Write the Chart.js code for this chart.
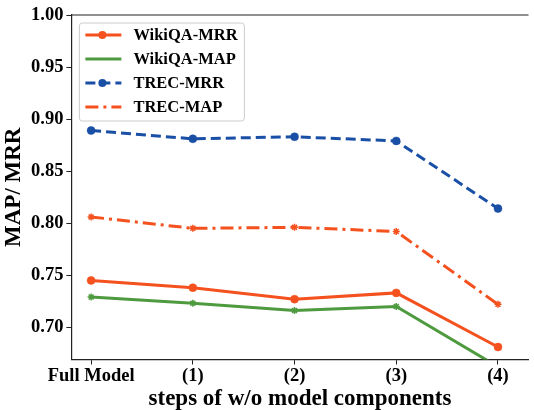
<!DOCTYPE html>
<html>
<head>
<meta charset="utf-8">
<script src="https://cdn.jsdelivr.net/npm/chart.js@4"></script>
<style>
  html, body { margin: 0; padding: 0; background: #fff; }
  #wrap { width: 534px; height: 410px; }
</style>
</head>
<body>
<div id="wrap"><canvas id="ablation"></canvas></div>
<script>
const steps = ["Full Model", "(1)", "(2)", "(3)", "(4)"];
const wikiMRR = [0.745, 0.738, 0.727, 0.733, 0.681];
const wikiMAP = [0.729, 0.723, 0.716, 0.720, 0.662];
const trecMRR = [0.889, 0.881, 0.883, 0.879, 0.814];
const trecMAP = [0.806, 0.795, 0.796, 0.792, 0.722];

const FONT = "'Liberation Serif', 'Times New Roman', serif";
const ORANGE = "#f4511e";
const GREEN = "#4e9a3f";
const BLUE = "#1a4fa6";

function pts(arr) {
  return arr.map((v, i) => ({ x: i, y: v }));
}

// legend box inside the plot, like matplotlib's
const boxLegend = {
  id: "boxLegend",
  afterDraw(chart) {
    const c = chart.ctx;
    const a = chart.chartArea;
    // top spine (right one is cut off by the figure edge)
    c.save();
    c.strokeStyle = "#222";
    c.lineWidth = 1.2;
    c.beginPath();
    c.moveTo(a.left, a.top);
    c.lineTo(a.right, a.top);
    c.stroke();

    const x0 = a.left + 8, y0 = a.top + 8, w = 165, h = 98;
    c.fillStyle = "rgba(255,255,255,0.85)";
    c.strokeStyle = "#ccc";
    c.lineWidth = 1;
    c.beginPath();
    c.roundRect(x0, y0, w, h, 3);
    c.fill();
    c.stroke();

    chart.data.datasets.forEach((ds, i) => {
      const y = y0 + 12 + i * 24;
      c.strokeStyle = ds.borderColor;
      c.lineWidth = ds.borderWidth;
      c.setLineDash(ds.borderDash || []);
      c.beginPath();
      c.moveTo(x0 + 6, y);
      c.lineTo(x0 + 42, y);
      c.stroke();
      c.setLineDash([]);
      c.fillStyle = ds.borderColor;
      if (ds.pointStyle === "circle") {
        c.beginPath();
        c.arc(x0 + 23, y, 4, 0, Math.PI * 2);
        c.fill();
      }
      c.fillStyle = "#000";
      c.font = "bold 16.5px " + FONT;
      c.textBaseline = "middle";
      c.fillText(ds.label, x0 + 54, y + 1);
    });
    c.restore();
  }
};

new Chart(document.getElementById("ablation"), {
  type: "line",
  data: {
    datasets: [
      { label: "WikiQA-MRR", data: pts(wikiMRR), borderColor: ORANGE, backgroundColor: ORANGE,
        borderWidth: 3, pointStyle: "circle", pointRadius: 4, pointBorderWidth: 0.5, clip: 0 },
      { label: "WikiQA-MAP", data: pts(wikiMAP), borderColor: GREEN, backgroundColor: GREEN,
        borderWidth: 3, pointStyle: "star", pointRadius: 3.5, pointBorderWidth: 1.5, clip: 0 },
      { label: "TREC-MRR", data: pts(trecMRR), borderColor: BLUE, backgroundColor: BLUE,
        borderWidth: 3, borderDash: [10, 5], pointStyle: "circle", pointRadius: 4, pointBorderWidth: 0.5, clip: 0 },
      { label: "TREC-MAP", data: pts(trecMAP), borderColor: ORANGE, backgroundColor: ORANGE,
        borderWidth: 3, borderDash: [13, 5, 3, 5], pointStyle: "star", pointRadius: 3.5, pointBorderWidth: 1.5, clip: 0 }
    ]
  },
  options: {
    responsive: true,
    maintainAspectRatio: false,
    animation: false,
    layout: { padding: { top: 15, right: 0, left: 2, bottom: -2 } },
    plugins: { legend: { display: false }, tooltip: { enabled: false } },
    scales: {
      x: {
        type: "linear",
        min: -0.194,
        max: 4.30,
        afterBuildTicks(axis) {
          axis.ticks = steps.map((s, i) => ({ value: i }));
        },
        ticks: {
          callback: (v) => steps[v],
          color: "#000",
          font: { family: FONT, size: 18.5, weight: "bold", lineHeight: 1 },
          maxRotation: 0,
          padding: 2
        },
        grid: { drawOnChartArea: false, tickLength: 5, color: "#222" },
        border: { color: "#222", width: 1.2 },
        title: {
          display: true,
          text: "steps of w/o model components",
          color: "#000",
          font: { family: FONT, size: 23, weight: "bold", lineHeight: 1 },
          padding: { top: 1, bottom: 1 }
        }
      },
      y: {
        min: 0.669,
        max: 1.0,
        afterBuildTicks(axis) {
          axis.ticks = [0.70, 0.75, 0.80, 0.85, 0.90, 0.95, 1.00].map((v) => ({ value: v }));
        },
        ticks: {
          callback: (v) => v.toFixed(2),
          color: "#000",
          font: { family: FONT, size: 18.5, weight: "bold", lineHeight: 1 },
          padding: 3
        },
        grid: { drawOnChartArea: false, tickLength: 5, color: "#222" },
        border: { color: "#222", width: 1.2 },
        title: {
          display: true,
          text: "MAP/ MRR",
          color: "#000",
          font: { family: FONT, size: 23, weight: "bold", lineHeight: 1 },
          padding: { top: 1, bottom: 2 }
        }
      }
    }
  },
  plugins: [boxLegend]
});
</script>
</body>
</html>
